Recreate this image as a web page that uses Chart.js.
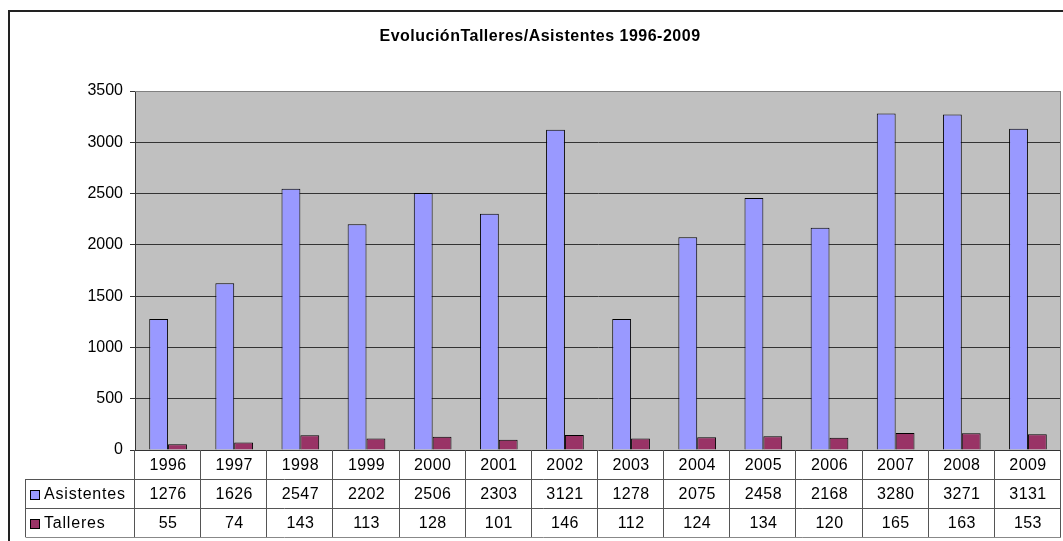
<!DOCTYPE html>
<html>
<head>
<meta charset="utf-8">
<script src="https://cdn.jsdelivr.net/npm/chart.js@4"></script>
<style>
  html, body { margin: 0; padding: 0; background: #fff; }
  #wrap { width: 1063px; height: 541px; position: relative; }
</style>
</head>
<body>
<div id="wrap"><canvas id="chart"></canvas></div>
<script>
// Chart data
const years = ['1996', '1997', '1998', '1999', '2000', '2001', '2002', '2003', '2004', '2005', '2006', '2007', '2008', '2009'];
const asistentes = [1276, 1626, 2547, 2202, 2506, 2303, 3121, 1278, 2075, 2458, 2168, 3280, 3271, 3131];
const talleres = [55, 74, 143, 113, 128, 101, 146, 112, 124, 134, 120, 165, 163, 153];
const seriesNames = ['Asistentes', 'Talleres'];
const chartTitle = 'EvoluciónTalleres/Asistentes 1996-2009';

const FONT = '"Liberation Sans", Arial, sans-serif';
const colors = ['#9999FF', '#993366'];

// Background, title, frame
const framePlugin = {
    id: 'frame',
    beforeDraw(chart) {
        const ctx = chart.ctx;
        const a = chart.chartArea;
        ctx.save();
        ctx.fillStyle = '#fff';
        ctx.fillRect(0, 0, chart.width, chart.height);
        ctx.fillStyle = '#C0C0C0';
        ctx.fillRect(a.left, a.top, a.right - a.left, a.bottom - a.top);
        // outer border
        ctx.strokeStyle = '#222';
        ctx.lineWidth = 2;
        ctx.beginPath();
        ctx.moveTo(9, chart.height + 2);
        ctx.lineTo(9, 11);
        ctx.lineTo(chart.width + 2, 11);
        ctx.stroke();
        // title
        ctx.fillStyle = '#000';
        ctx.font = 'bold 16px ' + FONT;
        ctx.letterSpacing = '0.5px';
        ctx.textAlign = 'center';
        ctx.textBaseline = 'middle';
        ctx.fillText(chartTitle, 540, 37);
        ctx.restore();
    },
    afterDatasetsDraw(chart) {
        const ctx = chart.ctx;
        const a = chart.chartArea;
        ctx.save();
        ctx.strokeStyle = '#808080';
        ctx.lineWidth = 1;
        ctx.beginPath();
        ctx.moveTo(a.left, a.top + 0.5);
        ctx.lineTo(a.right - 0.5, a.top + 0.5);
        ctx.lineTo(a.right - 0.5, a.bottom);
        ctx.stroke();
        ctx.restore();
    }
};

// Data table under the plot
const tablePlugin = {
    id: 'dataTable',
    afterDraw(chart) {
        const ctx = chart.ctx;
        const xs = chart.scales.x;
        const a = chart.chartArea;
        const n = years.length;
        const cw = (xs.right - xs.left) / n;
        const rowH = 29;
        const y0 = Math.round(a.bottom);
        const legLeft = 25.5;
        const rows = [y0, y0 + rowH, y0 + rowH * 2, y0 + rowH * 3];
        const series = [asistentes, talleres];

        ctx.save();
        ctx.lineWidth = 1;
        ctx.strokeStyle = '#555';
        ctx.beginPath();
        // vertical lines
        for (let i = 0; i <= n; i++) {
            const x = Math.round(xs.left + i * cw) - 0.5;
            ctx.moveTo(x, y0);
            ctx.lineTo(x, rows[3]);
        }
        ctx.moveTo(legLeft, rows[1]);
        ctx.lineTo(legLeft, rows[3]);
        // horizontal lines
        ctx.moveTo(legLeft, rows[1] + 0.5);
        ctx.lineTo(xs.right, rows[1] + 0.5);
        ctx.moveTo(legLeft, rows[2] + 0.5);
        ctx.lineTo(xs.right, rows[2] + 0.5);
        ctx.stroke();
        ctx.strokeStyle = '#888';
        ctx.beginPath();
        ctx.moveTo(legLeft, rows[3] + 0.5);
        ctx.lineTo(xs.right, rows[3] + 0.5);
        ctx.stroke();

        ctx.font = '16px ' + FONT;
        ctx.letterSpacing = '0.4px';
        ctx.fillStyle = '#000';
        ctx.textBaseline = 'middle';
        ctx.textAlign = 'center';
        for (let i = 0; i < n; i++) {
            const cx = xs.left + (i + 0.5) * cw;
            ctx.fillText(years[i], cx, rows[0] + rowH / 2 + 1);
            ctx.fillText(String(series[0][i]), cx, rows[1] + rowH / 2 + 1);
            ctx.fillText(String(series[1][i]), cx, rows[2] + rowH / 2 + 1);
        }
        // legend keys
        ctx.textAlign = 'left';
        ctx.letterSpacing = '0.8px';
        for (let s = 0; s < 2; s++) {
            const my = rows[s + 1] + rowH / 2;
            ctx.fillStyle = colors[s];
            ctx.fillRect(30.5, Math.round(my - 4) + 0.5, 9, 9);
            ctx.strokeStyle = '#000';
            ctx.strokeRect(30.5, Math.round(my - 4) + 0.5, 9, 9);
            ctx.fillStyle = '#000';
            ctx.fillText(seriesNames[s], 44, my + 1);
        }
        ctx.restore();
    }
};

const ctx = document.getElementById('chart').getContext('2d');
new Chart(ctx, {
    type: 'bar',
    data: {
        labels: years,
        datasets: [{
            label: seriesNames[0],
            data: asistentes,
            backgroundColor: colors[0],
            borderColor: '#000',
            borderWidth: 1,
            barPercentage: 1,
            categoryPercentage: 0.57
        }, {
            label: seriesNames[1],
            data: talleres,
            backgroundColor: colors[1],
            borderColor: '#000',
            borderWidth: 1,
            barPercentage: 1,
            categoryPercentage: 0.57
        }]
    },
    options: {
        responsive: true,
        maintainAspectRatio: false,
        animation: false,
        layout: {
            padding: { left: 11, right: 2, top: 91, bottom: 91 }
        },
        plugins: {
            legend: { display: false },
            title: { display: false },
            tooltip: { enabled: false }
        },
        scales: {
            x: {
                display: false
            },
            y: {
                min: 0,
                max: 3500,
                afterFit(scale) { scale.width = 124; },
                ticks: {
                    stepSize: 500,
                    color: '#000',
                    padding: 7,
                    font: { family: FONT, size: 16 },
                    callback: (v) => String(v)
                },
                grid: {
                    color: (c) => c.tick && c.tick.value === 3500 ? '#808080' : '#333',
                    lineWidth: 1,
                    tickLength: 5,
                    tickColor: '#333'
                },
                border: { display: true, color: '#333', width: 1 }
            }
        }
    },
    plugins: [framePlugin, tablePlugin]
});
</script>
</body>
</html>
